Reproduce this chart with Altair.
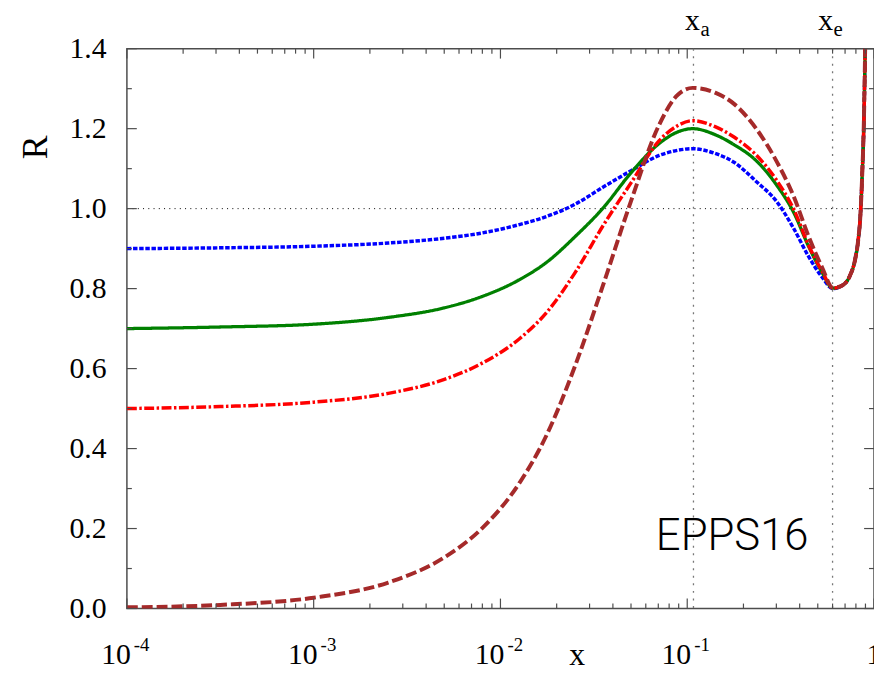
import altair as alt
import pandas as pd

# ---------------- data ----------------
x_vals = [0.0001, 0.000316, 0.001, 0.00251, 0.00501, 0.00794, 0.0126, 0.0178,
          0.0251, 0.0355, 0.0501, 0.0708, 0.0891, 0.107, 0.141, 0.178, 0.234,
          0.302, 0.372, 0.447, 0.525, 0.603, 0.676, 0.741, 0.794, 0.822, 0.846,
          0.867, 0.881, 0.902]

r_blue = [0.900, 0.902, 0.906, 0.914, 0.926, 0.939, 0.960, 0.981, 1.011, 1.054,
          1.095, 1.133, 1.146, 1.150, 1.138, 1.116, 1.068, 1.017, 0.950, 0.880,
          0.830, 0.800, 0.808, 0.831, 0.875, 0.919, 0.985, 1.100, 1.200, 1.480]
r_green = [0.700, 0.704, 0.711, 0.728, 0.752, 0.780, 0.822, 0.867, 0.930, 1.002,
           1.090, 1.163, 1.192, 1.200, 1.185, 1.160, 1.120, 1.058, 0.990, 0.905,
           0.842, 0.801, 0.808, 0.831, 0.875, 0.919, 0.985, 1.100, 1.200, 1.480]
r_red = [0.500, 0.505, 0.516, 0.538, 0.573, 0.613, 0.674, 0.742, 0.840, 0.958,
         1.065, 1.170, 1.208, 1.220, 1.205, 1.179, 1.134, 1.070, 0.998, 0.908,
         0.845, 0.801, 0.808, 0.831, 0.875, 0.919, 0.985, 1.100, 1.200, 1.480]
r_brown = [0.003, 0.009, 0.027, 0.065, 0.128, 0.200, 0.313, 0.437, 0.607, 0.810,
           1.020, 1.210, 1.285, 1.302, 1.290, 1.262, 1.200, 1.117, 1.030, 0.930,
           0.855, 0.802, 0.808, 0.831, 0.875, 0.919, 0.985, 1.100, 1.200, 1.480]

series_names = ["blue", "green", "red", "brown"]
series_colors = ["#0000FF", "#008000", "#FF0000", "#A52A2A"]
series_dash = [[4.5, 1.7], [1, 0], [10, 2.5, 2.5, 2.5], [11, 4]]
series_width = [3.5, 3.3, 3.5, 4.0]
series_values = [r_blue, r_green, r_red, r_brown]

x_a = 0.108
x_e = 0.6
ref_R = 1.0

decades = [0.0001, 0.001, 0.01, 0.1]
decade_exp = ["-4", "-3", "-2", "-1"]
minor_mult = [2, 3, 4, 5, 6, 7, 8, 9]
y_major = [0.0, 0.2, 0.4, 0.6, 0.8, 1.0, 1.2, 1.4]
y_minor = [0.1, 0.3, 0.5, 0.7, 0.9, 1.1, 1.3]

W, H = 754, 565
SERIF = "Liberation Serif"
TICK = "#4d4d4d"

xs = alt.Scale(type="log", domain=[1e-4, 1], nice=False)
ys = alt.Scale(domain=[0, 1.4], nice=False, zero=False)

x_axis = alt.Axis(labels=False, ticks=False, domain=False, grid=False,
                  title="x", titleFont=SERIF, titleFontSize=32,
                  titleFontWeight="normal", titleColor="black",
                  titleX=454, titleY=57, titleAlign="center",
                  titleBaseline="alphabetic")
y_axis = alt.Axis(values=y_major, format=".1f", labelFont=SERIF,
                  labelFontSize=30, labelColor="black", labelPadding=21,
                  labelFlush=False, labelOverlap=False,
                  ticks=False, domain=False, grid=False,
                  title="R", titleFont=SERIF, titleFontSize=36,
                  titleFontWeight="normal", titleColor="black",
                  titleAngle=270, titleX=-81, titleY=99,
                  titleAlign="center", titleBaseline="alphabetic")


def X():
    return alt.X("x:Q", scale=xs, axis=x_axis, title="x")


def Y():
    return alt.Y("R:Q", scale=ys, axis=y_axis, title="R")


layers = []

# reference dotted lines
layers.append(
    alt.Chart(pd.DataFrame({"R": [ref_R]})).mark_rule(
        color="black", strokeWidth=1, strokeDash=[1, 4.3]
    ).encode(y=Y())
)
layers.append(
    alt.Chart(pd.DataFrame({"x": [x_a, x_e]})).mark_rule(
        color="#777777", strokeWidth=1.3, strokeDash=[2, 5.6]
    ).encode(x=X())
)

# curves
for name, col, dash, sw, vals in zip(series_names, series_colors, series_dash,
                                     series_width, series_values):
    df = pd.DataFrame({"x": x_vals, "R": vals})
    layers.append(
        alt.Chart(df).mark_line(color=col, strokeDash=dash, strokeWidth=sw,
                                interpolate="monotone", clip=True)
        .encode(x=X(), y=Y())
    )

# ticks (inward)
xmaj = pd.DataFrame({"x": decades + [1.0]})
xmin = pd.DataFrame({"x": [m * d for d in decades for m in minor_mult]})
ymaj = pd.DataFrame({"R": y_major})
ymin = pd.DataFrame({"R": y_minor})


def xticks(df, length):
    bottom = alt.Chart(df).mark_rule(color=TICK, strokeWidth=1.2).encode(
        x=X(), y=alt.value(H), y2=alt.value(H - length))
    top = alt.Chart(df).mark_rule(color=TICK, strokeWidth=1.2).encode(
        x=X(), y=alt.value(0), y2=alt.value(length))
    return [bottom, top]


def yticks(df, length):
    left = alt.Chart(df).mark_rule(color=TICK, strokeWidth=1.2).encode(
        y=Y(), x=alt.value(0), x2=alt.value(length))
    right = alt.Chart(df).mark_rule(color=TICK, strokeWidth=1.2).encode(
        y=Y(), x=alt.value(W - length), x2=alt.value(W))
    return [left, right]


layers += xticks(xmaj, 10) + xticks(xmin, 5) + yticks(ymaj, 10) + yticks(ymin, 5)

# x tick labels: 10^k
lab_df = pd.DataFrame({"x": decades, "base": ["10"] * 4, "exp": decade_exp})
layers.append(
    alt.Chart(lab_df).mark_text(font=SERIF, fontSize=30, align="right",
                                baseline="alphabetic", dx=4, color="black")
    .encode(x=X(), y=alt.value(621), text="base:N")
)
layers.append(
    alt.Chart(lab_df).mark_text(font=SERIF, fontSize=19, align="left",
                                baseline="alphabetic", dx=7, color="black")
    .encode(x=X(), y=alt.value(608), text="exp:N")
)
layers.append(
    alt.Chart(pd.DataFrame({"x": [1.0], "t": ["1"]})).mark_text(
        font=SERIF, fontSize=30, align="center", baseline="alphabetic",
        color="black")
    .encode(x=X(), y=alt.value(621), text="t:N")
)


# top annotations x_a, x_e
def top_label(xv, sub, dx_main, dx_sub):
    d = pd.DataFrame({"x": [xv], "m": ["x"], "s": [sub]})
    main = alt.Chart(d).mark_text(font=SERIF, fontSize=30, align="center",
                                  baseline="alphabetic", dx=dx_main,
                                  color="black").encode(
        x=X(), y=alt.value(-19), text="m:N")
    s = alt.Chart(d).mark_text(font=SERIF, fontSize=21, align="left",
                               baseline="alphabetic", dx=dx_sub,
                               color="black").encode(
        x=X(), y=alt.value(-13), text="s:N")
    return [main, s]


layers += top_label(x_a, "a", -1, 7) + top_label(x_e, "e", -7, 1)

# EPPS16 label
layers.append(
    alt.Chart(pd.DataFrame({"x": [0.174], "R": [0.147], "t": ["EPPS16"]}))
    .mark_text(font="Roboto", fontSize=44, fontWeight=300, align="center",
               baseline="alphabetic", color="black")
    .encode(x=X(), y=Y(), text="t:N")
)

chart = alt.layer(*layers).properties(
    width=W, height=H,
    padding={"left": 120, "top": 38, "right": 0, "bottom": 60},
    autosize=alt.AutoSizeParams(type="none"),
).configure_view(stroke="#4d4d4d", strokeWidth=1.5)

chart.save("out.html", embed_options={"renderer": "svg", "actions": False})
